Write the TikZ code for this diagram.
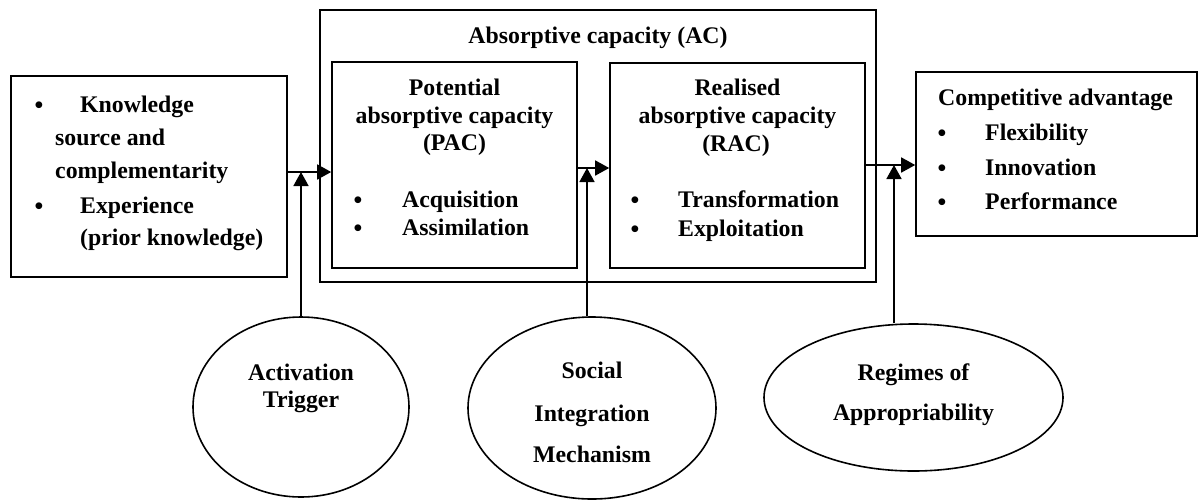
\documentclass[tikz,border=0pt]{standalone}
\usepackage{fontspec}
\setmainfont{Liberation Serif}
\usetikzlibrary{shapes.geometric,arrows.meta}
\begin{document}
\begin{tikzpicture}[x=1pt,y=-1pt,
  box/.style={draw, line width=1.6pt, rectangle, inner sep=0pt},
  oval/.style={draw, line width=1.6pt, ellipse, inner sep=0pt},
  arr/.style={line width=1.6pt, -{Triangle[length=14pt,width=15pt]}},
  txt/.style={inner sep=0pt, font=\fontsize{23.8}{28}\selectfont\bfseries},
  lt/.style={txt, anchor=base west},
  ct/.style={txt, anchor=base},
  bul/.style={inner sep=0pt, anchor=base, yshift=-1pt,
    font=\fontsize{25}{28}\selectfont\bfseries}]
\useasboundingbox (0,0) rectangle (1199,499);

% boxes
\node[box, minimum width=276, minimum height=201] (src) at (149,176.5) {};
\node[box, minimum width=556, minimum height=272] (ac)  at (598,146) {};
\node[box, minimum width=245, minimum height=206] (pac) at (454.5,165) {};
\node[box, minimum width=255, minimum height=205] (rac) at (737.5,165.5) {};
\node[box, minimum width=281, minimum height=164] (ca)  at (1056.5,154) {};

% ovals
\node[oval, minimum width=216, minimum height=180] (act) at (301,407) {};
\node[oval, minimum width=248, minimum height=182] (sim) at (592,408) {};
\node[oval, minimum width=299, minimum height=147] (reg) at (913.5,397.5) {};

% knowledge sources
\node[bul] (b1) at (39,112) {\textbullet};
\node[lt] (s1) at (80,112) {Knowledge};
\node[lt] (s2) at (55,145) {source and};
\node[lt] (s3) at (55,178) {complementarity};
\node[bul] (b2) at (39,213) {\textbullet};
\node[lt] (s4) at (80,213) {Experience};
\node[lt] (s5) at (80,245) {(prior knowledge)};

% absorptive capacity
\node[ct] (actitle) at (598,43) {Absorptive capacity (AC)};

\node[ct] (p1) at (454.5,95) {Potential};
\node[ct] (p2) at (454.5,123) {absorptive capacity};
\node[ct] (p3) at (454.5,150) {(PAC)};
\node[bul] (b3) at (358,207) {\textbullet};
\node[lt] (p4) at (402,207) {Acquisition};
\node[bul] (b4) at (358,235) {\textbullet};
\node[lt] (p5) at (402,235) {Assimilation};

\node[ct] (r1) at (737.5,95) {Realised};
\node[ct] (r2) at (737.5,123) {absorptive capacity};
\node[ct] (r3) at (736,151) {(RAC)};
\node[bul] (b5) at (635,207) {\textbullet};
\node[lt] (r4) at (678,207) {Transformation};
\node[bul] (b6) at (635,236) {\textbullet};
\node[lt] (r5) at (678,236) {Exploitation};

% competitive advantage
\node[lt] (c1) at (938,105) {Competitive advantage};
\node[bul] (b7) at (942,140) {\textbullet};
\node[lt] (c2) at (985,140) {Flexibility};
\node[bul] (b8) at (942,175) {\textbullet};
\node[lt] (c3) at (985,175) {Innovation};
\node[bul] (b9) at (942,209) {\textbullet};
\node[lt] (c4) at (985,209) {Performance};

% oval labels
\node[ct] (a1) at (301,380) {Activation};
\node[ct] (a2) at (301,407) {Trigger};
\node[ct] (m1) at (592,378) {Social};
\node[ct] (m2) at (592,421) {Integration};
\node[ct] (m3) at (592,462) {Mechanism};
\node[ct] (g1) at (913.5,380) {Regimes of};
\node[ct] (g2) at (913.5,420) {Appropriability};

% connectors
\coordinate (j1) at (301,172);
\coordinate (j2) at (587,168);
\coordinate (j3) at (894,165);
\draw[arr] (src.east |- j1) -- (pac.west |- j1);
\draw[arr] (act) -- (j1);
\draw[arr] (pac.east |- j2) -- (rac.west |- j2);
\draw[arr] (j2 |- sim.north) -- (j2);
\draw[arr] (rac.east |- j3) -- (ca.west |- j3);
\draw[arr] (j3 |- reg.north) -- (j3);
\end{tikzpicture}
\end{document}
